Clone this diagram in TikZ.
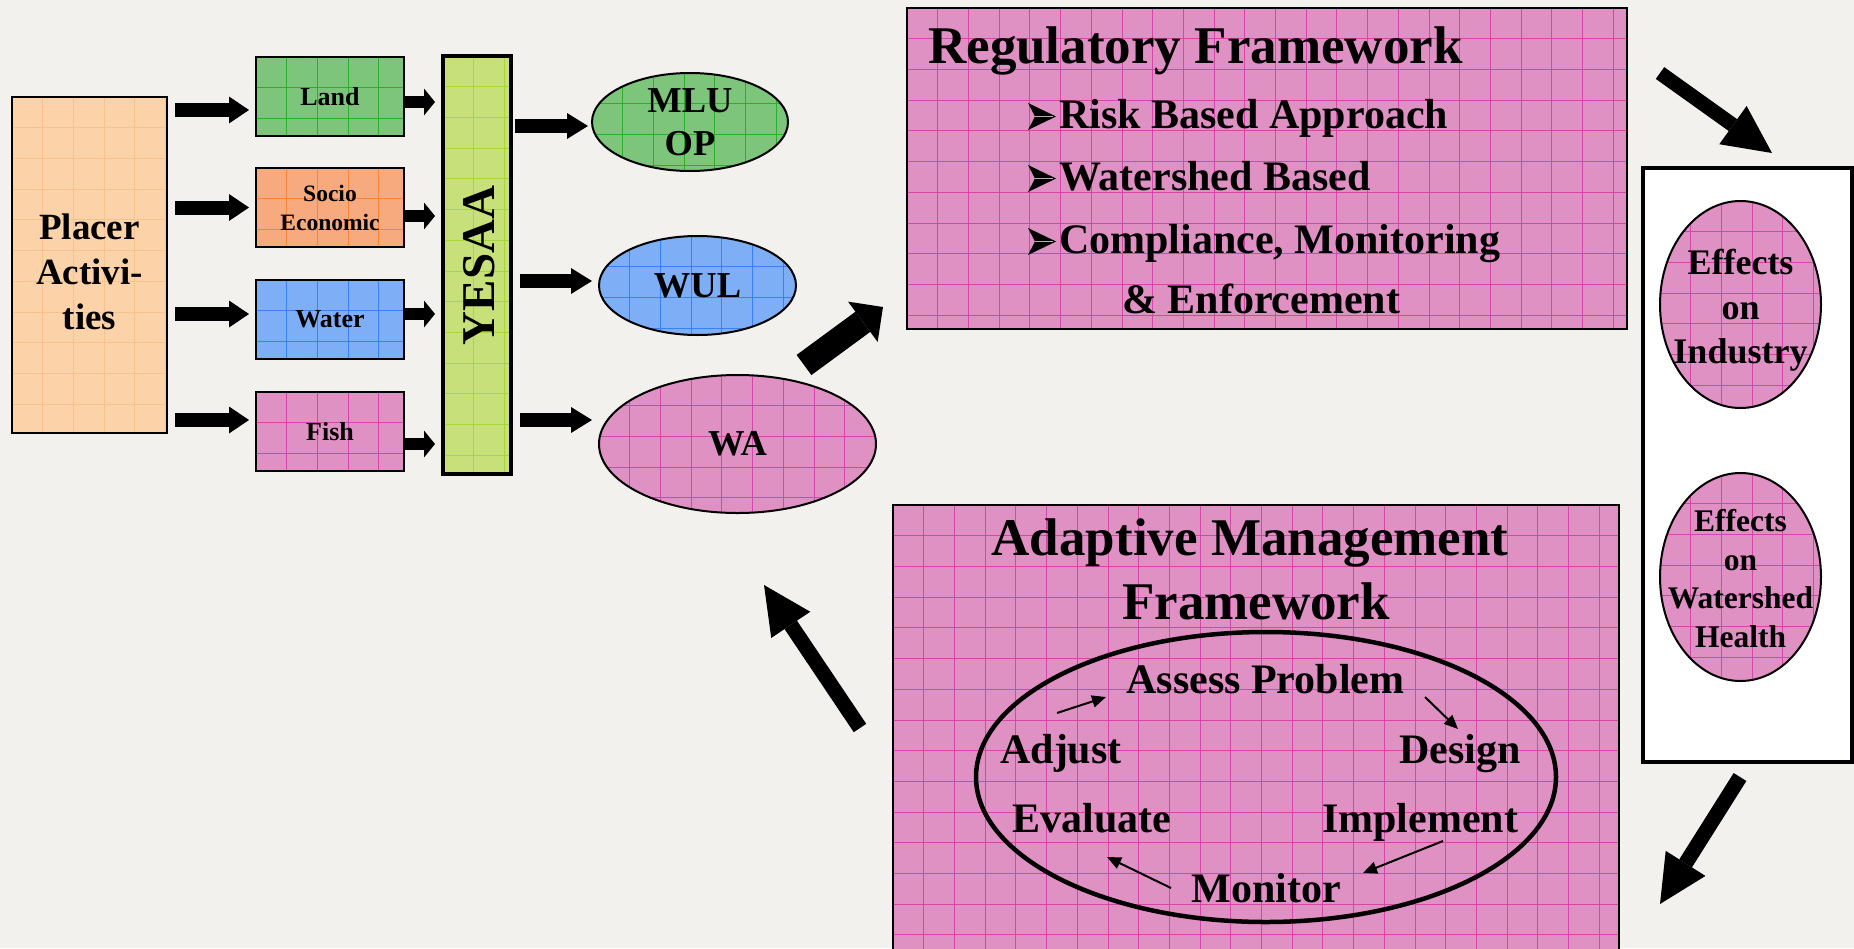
\documentclass[tikz,border=0pt]{standalone}
\usepackage{fontspec}
\setmainfont{Liberation Serif}
\usetikzlibrary{arrows.meta,shapes.geometric}
\definecolor{bgc}{HTML}{F2F1ED}
\definecolor{peach}{HTML}{FCD3A8}
\definecolor{peachG}{HTML}{F6C38E}
\definecolor{grn}{HTML}{7DC57A}
\definecolor{grnG}{HTML}{2EAE2E}
\definecolor{org}{HTML}{F7AA7D}
\definecolor{orgG}{HTML}{F5853A}
\definecolor{blu}{HTML}{7EAEF5}
\definecolor{bluG}{HTML}{3A80F2}
\definecolor{pnk}{HTML}{E091C4}
\definecolor{pnkG}{HTML}{D447AA}
\definecolor{ylw}{HTML}{C8E07A}
\definecolor{ylwG}{HTML}{A6D637}
\newcommand\fsz[2]{\fontsize{#1bp}{#2bp}\selectfont\bfseries}
\begin{document}
\begin{tikzpicture}[x=1bp,y=-1bp,
  gridded/.style={path picture={
    \foreach \k in {1,...,24}{
      \draw[#1,line width=0.8bp] ([xshift=\k*30.7bp]path picture bounding box.north west) -- ++(0bp,-900bp);
      \draw[#1,line width=0.8bp] ([yshift=-\k*30.7bp]path picture bounding box.north west) -- ++(900bp,0bp);
    }}},
  sbox/.style={draw=black, line width=2bp, inner sep=0pt, align=center},
  oval/.style={sbox, ellipse},
  harrow/.style={line width=14bp, -{Triangle[length=20bp,width=27bp,line width=0pt]}},
  sarrow/.style={line width=12bp, -{Triangle[length=11bp,width=27bp,line width=0pt]}},
  earrow/.style={line width=14bp, -{Triangle[length=21bp,width=26bp,line width=0pt]}},
  barrow/.style={line width=15bp, -{Triangle[length=48bp,width=47bp,line width=0pt]}},
  larrow/.style={line width=2bp, -{Triangle[length=14bp,width=12bp]}},
  lbl/.style={font=\fsz{42}{50}, anchor=base, inner sep=0pt},
  txt/.style={inner sep=0pt},
  bulletarrow/.pic={
    \fill[black] (0,-25) -- (28,-11.5) -- (0,2) -- (7,-11.5) -- cycle;
    \draw[white!70!black, line width=0.8bp] (7,-11.5) -- (25,-11.5);
  },
]
\path[use as bounding box] (0,0) rectangle (1854,948);
\clip (0,0) rectangle (1854,948);
\fill[bgc] (0,0) rectangle (1854,948);

% left column
\node[sbox, fill=peach, gridded=peachG, minimum width=155bp, minimum height=336bp, font=\fsz{37}{45}] (placer) at (89.5,265) {\rule{0pt}{40bp}Placer\\Activi-\\ties};
\node[sbox, fill=grn, gridded=grnG, minimum width=148bp, minimum height=79bp, font=\fsz{26}{30}] (land) at (330,96.5) {Land};
\node[sbox, fill=org, gridded=orgG, minimum width=148bp, minimum height=79bp, font=\fsz{23.5}{29}] (socio) at (330,207.5) {Socio\\Economic};
\node[sbox, fill=blu, gridded=bluG, minimum width=148bp, minimum height=79bp, font=\fsz{26}{30}] (water) at (330,319.5) {Water};
\node[sbox, fill=pnk, gridded=pnkG, minimum width=148bp, minimum height=79bp, font=\fsz{26}{30}] (fish) at (330,431.5) {Fish};
\node[sbox, line width=4bp, fill=ylw, gridded=ylwG, minimum width=68bp, minimum height=418bp] (yesaa) at (477,265) {};
\node[txt, rotate=90, font=\fsz{47}{47}] (yesaatext) at (479,265.5) {YESAA};

% ellipses
\node[oval, fill=grn, gridded=grnG, minimum width=196bp, minimum height=98bp, font=\fsz{36.5}{43}] (mlu) at (690,122) {MLU\\OP};
\node[oval, fill=blu, gridded=bluG, minimum width=197bp, minimum height=99bp, font=\fsz{36.5}{43}] (wul) at (697.5,285.5) {WUL};
\node[oval, fill=pnk, gridded=pnkG, minimum width=277bp, minimum height=138bp, font=\fsz{36.5}{43}] (wa) at (737.5,444) {WA};

% regulatory framework
\node[sbox, line width=2.5bp, fill=pnk, gridded=pnkG, minimum width=720bp, minimum height=321bp] (reg) at (1267,168.5) {};
\node[txt, anchor=base west, font=\fsz{53}{60}] (regtitle) at (928,63) {Regulatory Framework};
\pic at (1028,128) {bulletarrow};
\pic at (1028,190) {bulletarrow};
\pic at (1028,253) {bulletarrow};
\node[txt, anchor=base west, font=\fsz{42}{50}] (reg1) at (1059,128) {Risk Based Approach};
\node[txt, anchor=base west, font=\fsz{42}{50}] (reg2) at (1059,190) {Watershed Based};
\node[txt, anchor=base west, font=\fsz{42}{50}] (reg3) at (1059,253) {Compliance, Monitoring};
\node[txt, anchor=base west, font=\fsz{42}{50}] (reg4) at (1122,313) {\& Enforcement};

% right panel
\node[draw, line width=4bp, fill=white, minimum width=209bp, minimum height=594bp, inner sep=0pt] (panel) at (1747.5,465) {};
\node[oval, fill=pnk, gridded=pnkG, minimum width=161bp, minimum height=207bp] (effind) at (1740.5,304.5) {};
\node[txt, align=center, font=\fsz{36}{44.5}] (effindtext) at ([yshift=-6bp]effind.center) {Effects\\on\\Industry};
\node[oval, fill=pnk, gridded=pnkG, minimum width=161bp, minimum height=208bp] (effws) at (1740.5,577) {};
\node[txt, align=center, font=\fsz{31.5}{38.6}] (effwstext) at ([yshift=-1.5bp]effws.center) {Effects\\on\\Watershed\\Health};

% adaptive management
\node[sbox, fill=pnk, gridded=pnkG, minimum width=726bp, minimum height=460bp, anchor=north west] (adapt) at (892,504) {};
\node[txt, anchor=base, font=\fsz{53}{60}] (atitle1) at (1250,555) {Adaptive Management};
\node[txt, anchor=base, font=\fsz{53}{60}] (atitle2) at (1256,619) {Framework};
\node[draw, line width=4.5bp, ellipse, minimum width=580bp, minimum height=290bp, inner sep=0pt] (loop) at (1266,777) {};
\node[lbl] (assess) at (1265.5,693) {Assess Problem};
\node[lbl] (adjust) at (1061,763) {Adjust};
\node[lbl] (design) at (1460,763) {Design};
\node[lbl] (evaluate) at (1092,832) {Evaluate};
\node[lbl] (implement) at (1420,832) {Implement};
\node[lbl] (monitor) at (1266,902) {Monitor};

% loop arrows
\coordinate (la1) at (1057,713); \coordinate (lb1) at (1106,697);
\coordinate (la2) at (1425,697); \coordinate (lb2) at (1458,729);
\coordinate (la3) at (1443,841); \coordinate (lb3) at (1363,873);
\coordinate (la4) at (1171,888); \coordinate (lb4) at (1107,857);
\draw[larrow] (la1) -- (lb1);
\draw[larrow] (la2) -- (lb2);
\draw[larrow] (la3) -- (lb3);
\draw[larrow] (la4) -- (lb4);

% placer -> boxes
\draw[harrow] ([xshift=7bp,yshift=-13.5bp]placer.east |- land.west) -- ([xshift=-6bp,yshift=-13.5bp]land.west);
\draw[harrow] ([xshift=7bp]placer.east |- socio.west) -- ([xshift=-6bp]socio.west);
\draw[harrow] ([xshift=7bp,yshift=5.5bp]placer.east |- water.west) -- ([xshift=-6bp,yshift=5.5bp]water.west);
\draw[harrow] ([xshift=7bp,yshift=11.5bp]placer.east |- fish.west) -- ([xshift=-6bp,yshift=11.5bp]fish.west);

% boxes -> YESAA
\draw[sarrow] ([yshift=-5.5bp]land.east) -- ([xshift=-6bp,yshift=-5.5bp]yesaa.west |- land.east);
\draw[sarrow] ([yshift=-8.5bp]socio.east) -- ([xshift=-6bp,yshift=-8.5bp]yesaa.west |- socio.east);
\draw[sarrow] ([yshift=5.5bp]water.east) -- ([xshift=-6bp,yshift=5.5bp]yesaa.west |- water.east);
\draw[sarrow] ([yshift=-12.5bp]fish.east) -- ([xshift=-6bp,yshift=-12.5bp]yesaa.west |- fish.east);

% YESAA -> ellipses
\draw[earrow] ([xshift=2bp,yshift=-4bp]yesaa.east |- mlu.west) -- ([xshift=-3bp,yshift=-4bp]mlu.west);
\draw[earrow] ([xshift=7bp,yshift=4.5bp]yesaa.east |- wul.west) -- ([xshift=-6bp,yshift=4.5bp]wul.west);
\draw[earrow] ([xshift=7bp,yshift=24bp]yesaa.east |- wa.west) -- ([xshift=-6bp,yshift=24bp]wa.west);

% big diagonal arrows
\coordinate (wa2regT) at (804,365); \coordinate (wa2regH) at (883,307);
\coordinate (reg2effT) at (1660,73); \coordinate (reg2effH) at (1772,153);
\coordinate (eff2adT) at (1740,777); \coordinate (eff2adH) at (1660,904);
\coordinate (ad2waT) at (860,728); \coordinate (ad2waH) at (764,585);
\draw[line width=25bp, -{Triangle[length=25bp,width=50bp,line width=0pt]}] (wa2regT) -- (wa2regH);
\draw[barrow, line width=14.5bp] (reg2effT) -- (reg2effH);
\draw[barrow] (eff2adT) -- (eff2adH);
\draw[barrow] (ad2waT) -- (ad2waH);
\end{tikzpicture}
\end{document}
